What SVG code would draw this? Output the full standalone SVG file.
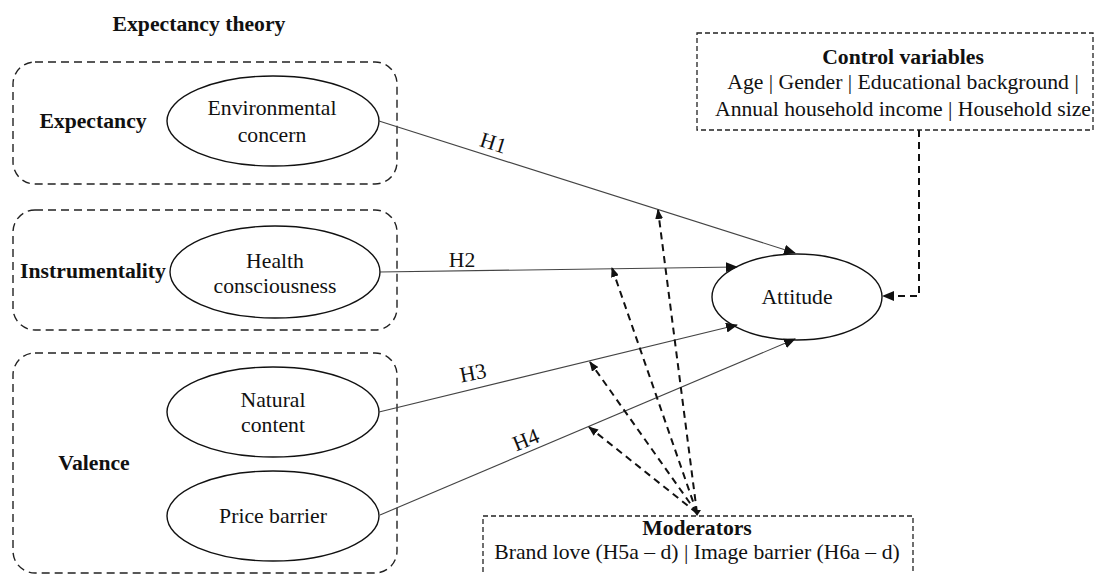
<svg xmlns="http://www.w3.org/2000/svg" width="1099" height="574" viewBox="0 0 1099 574" font-family="'Liberation Serif', Tinos, 'Times New Roman', 'DejaVu Serif', serif">
<style>
text{font-family:'Liberation Serif',Tinos,'Times New Roman','DejaVu Serif',serif;fill:#111;font-size:21.7px}
.b{font-weight:bold}
.grp{fill:none;stroke:#222;stroke-width:1.4;stroke-dasharray:8 5}
.node{fill:#fff;stroke:#111;stroke-width:1.4}
.box{fill:#fff;stroke:#222;stroke-width:1.3;stroke-dasharray:5 3}
.path{fill:none;stroke:#444;stroke-width:1.1}
.mod{fill:none;stroke:#111;stroke-width:2;stroke-dasharray:7 5}
</style>
<defs>
<marker id="ah" markerWidth="12" markerHeight="10" refX="11" refY="5" orient="auto" markerUnits="userSpaceOnUse">
<path d="M0,0 L12,5 L0,10 Z" fill="#111"/>
</marker>
<marker id="ahs" markerWidth="10" markerHeight="8" refX="9" refY="4" orient="auto" markerUnits="userSpaceOnUse">
<path d="M0,0 L10,4 L0,8 Z" fill="#111"/>
</marker>
</defs>
<text x="199" y="31" class="b" text-anchor="middle">Expectancy theory</text>
<g id="expectancy">
<rect x="13" y="62" width="384" height="122" rx="22" class="grp"/>
<text x="93" y="128" class="b" text-anchor="middle">Expectancy</text>
</g>
<g id="environmental-concern">
<ellipse cx="273" cy="121" rx="106" ry="45" class="node"/>
<text x="272" y="115" text-anchor="middle">Environmental</text>
<text x="272" y="142" text-anchor="middle">concern</text>
</g>
<g id="instrumentality">
<rect x="13" y="210" width="384" height="120" rx="22" class="grp"/>
<text x="93" y="278" class="b" text-anchor="middle">Instrumentality</text>
</g>
<g id="health-consciousness">
<ellipse cx="275" cy="272" rx="105" ry="46" class="node"/>
<text x="275" y="268" text-anchor="middle">Health</text>
<text x="275" y="293" text-anchor="middle">consciousness</text>
</g>
<g id="valence">
<rect x="13" y="353" width="384" height="220" rx="22" class="grp"/>
<text x="94" y="470" class="b" text-anchor="middle">Valence</text>
</g>
<g id="natural-content">
<ellipse cx="273" cy="412" rx="106" ry="45" class="node"/>
<text x="273" y="407" text-anchor="middle">Natural</text>
<text x="273" y="432" text-anchor="middle">content</text>
</g>
<g id="price-barrier">
<ellipse cx="273" cy="516" rx="106" ry="45" class="node"/>
<text x="273" y="523" text-anchor="middle">Price barrier</text>
</g>
<g id="attitude">
<ellipse cx="797" cy="297" rx="85" ry="43" class="node"/>
<text x="797" y="304" text-anchor="middle">Attitude</text>
</g>
<g id="control-variables">
<rect x="697" y="33" width="396" height="97" class="box"/>
<text x="903" y="64" class="b" text-anchor="middle">Control variables</text>
<text x="903" y="89" text-anchor="middle">Age | Gender | Educational background |</text>
<text x="903" y="116" text-anchor="middle">Annual household income | Household size</text>
</g>
<g id="moderators">
<rect x="483" y="516" width="430" height="70" class="box"/>
<text x="697" y="535" class="b" text-anchor="middle">Moderators</text>
<text x="697" y="559" text-anchor="middle">Brand love (H5a – d) | Image barrier (H6a – d)</text>
</g>
<g id="connectors">
<line x1="379" y1="121" x2="795" y2="253" class="path" marker-end="url(#ah)"/>
<line x1="379" y1="272" x2="737" y2="267" class="path" marker-end="url(#ah)"/>
<line x1="379" y1="412" x2="737" y2="325" class="path" marker-end="url(#ah)"/>
<line x1="380" y1="515" x2="795" y2="339" class="path" marker-end="url(#ah)"/>
<text x="493" y="150" text-anchor="middle" transform="rotate(17.6 493 144)">H1</text>
<text x="462" y="267" text-anchor="middle">H2</text>
<text x="473" y="380" text-anchor="middle" transform="rotate(-11 473 373)">H3</text>
<text x="526" y="447" text-anchor="middle" transform="rotate(-22 526 440)">H4</text>
<path d="M919,130 V296 H883" class="mod" marker-end="url(#ah)"/>
<line x1="697" y1="513" x2="658" y2="210" class="mod" marker-end="url(#ahs)"/>
<line x1="697" y1="513" x2="612" y2="268" class="mod" marker-end="url(#ahs)"/>
<line x1="697" y1="513" x2="590" y2="362" class="mod" marker-end="url(#ahs)"/>
<line x1="697" y1="513" x2="589" y2="427" class="mod" marker-end="url(#ahs)"/>
<path d="M693,510 L701,510 L697,516 Z" fill="#111"/>
</g>
</svg>
